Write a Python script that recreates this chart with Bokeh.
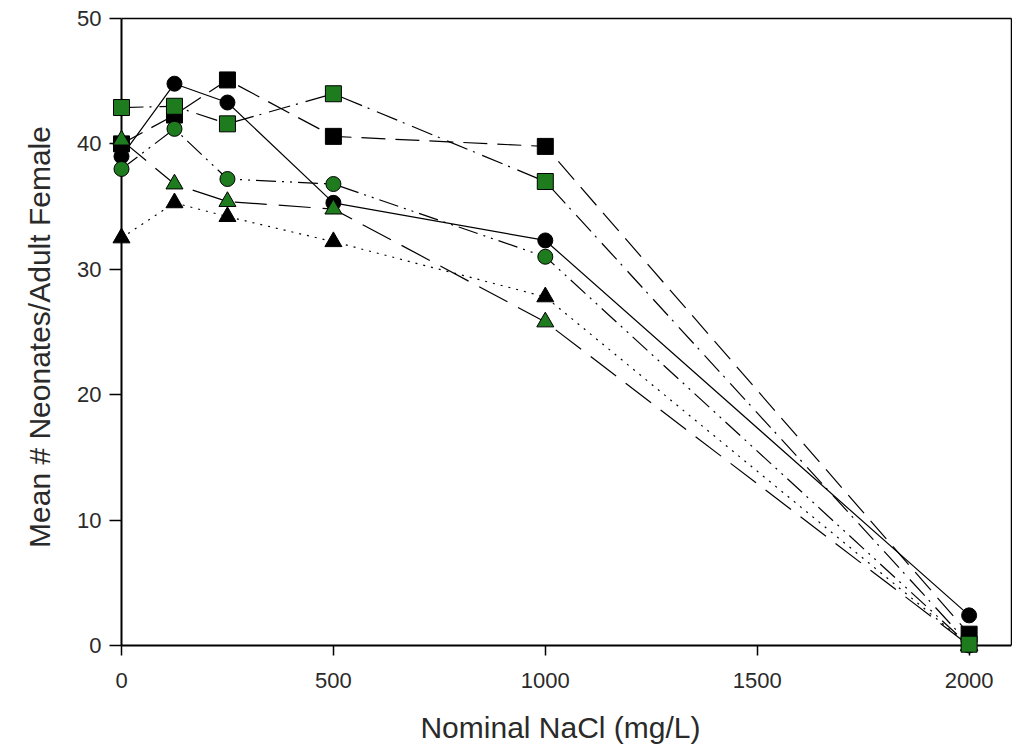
from bokeh.plotting import figure
from bokeh.models import Range1d, FixedTicker, LinearAxis
from bokeh.embed import file_html
from bokeh.resources import INLINE

# ---- data ----
nacl = [0, 125, 250, 500, 1000, 2000]
black_circle = [39.0, 44.8, 43.3, 35.3, 32.3, 2.4]
black_square = [40.0, 42.3, 45.1, 40.6, 39.8, 0.9]
black_triangle = [32.5, 35.3, 34.2, 32.2, 27.8, 0.0]
green_circle = [38.0, 41.2, 37.2, 36.8, 31.0, 0.0]
green_square = [42.9, 43.0, 41.6, 44.0, 37.0, 0.1]
green_triangle = [40.3, 36.8, 35.4, 34.8, 25.8, 0.0]

x_ticks = [0, 500, 1000, 1500, 2000]
y_ticks = [0, 10, 20, 30, 40, 50]
x_title = "Nominal NaCl (mg/L)"
y_title = "Mean # Neonates/Adult Female"
x_min, x_max = 0, 2100
y_min, y_max = 0, 50

GREEN = "#1e7b1e"
FONT = "Liberation Sans"

# a little padding beyond the axes so that markers on the axes are not clipped
x_pad = 28.3
y_pad = 0.8

p = figure(width=1012, height=749, output_backend="svg", toolbar_location=None,
           x_range=Range1d(x_min - x_pad, x_max), y_range=Range1d(y_min - y_pad, y_max),
           min_border_left=109, min_border_right=1, min_border_top=18,
           min_border_bottom=94)
p.grid.visible = False
p.outline_line_color = None
p.background_fill_color = "white"
p.border_fill_color = "white"

# label-carrying axes at the frame edges (their lines hidden)
for ax in (p.xaxis[0], p.yaxis[0]):
    ax.axis_line_color = None
    ax.major_tick_line_color = "black"
    ax.major_tick_line_width = 1.5
    ax.major_tick_out = 0
    ax.minor_tick_line_color = None
    ax.major_label_text_font = FONT
    ax.major_label_text_font_size = "22px"
    ax.major_label_text_color = "#2a2a2a"
    ax.axis_label_text_font = FONT
    ax.axis_label_text_font_size = "30px"
    ax.axis_label_text_font_style = "normal"
    ax.axis_label_text_color = "#2a2a2a"

p.xaxis.major_tick_in = 10
p.yaxis.major_tick_in = 12
p.xaxis.ticker = FixedTicker(ticks=x_ticks)
p.yaxis.ticker = FixedTicker(ticks=y_ticks)
p.xaxis.axis_label = x_title
p.yaxis.axis_label = y_title
p.xaxis.major_label_standoff = 17
p.yaxis.major_label_standoff = 8
p.xaxis.axis_label_standoff = 20
p.yaxis.axis_label_standoff = 18


def line_axis(bounds, width, loc=None):
    a = LinearAxis(ticker=FixedTicker(ticks=[]), bounds=bounds,
                   axis_line_width=width, axis_line_color="black",
                   major_tick_line_color=None, minor_tick_line_color=None,
                   major_label_text_font_size="0px")
    if loc is not None:
        a.fixed_location = loc
    return a


# axis lines through the origin, plus top and right frame lines
p.add_layout(line_axis((x_min, x_max), 2, y_min), "above")
p.add_layout(line_axis((x_min, x_max), 1.5), "above")
p.add_layout(line_axis((y_min, y_max), 2, x_min), "right")
p.add_layout(line_axis((y_min, y_max), 1.5), "right")

# ---- lines ----
series = [
    (black_triangle, "black", "triangle", "2 6"),
    (black_circle, "black", "circle", "solid"),
    (black_square, "black", "square", "24 10"),
    (green_triangle, GREEN, "triangle", "32 12"),
    (green_circle, GREEN, "circle", "20 6 2 6 2 6"),
    (green_square, GREEN, "square", "22 6 2 8"),
]
for ys, col, mk, dash in series:
    p.line(nacl, ys, line_color="black", line_width=1.2, line_dash=dash)

# ---- markers ----
sizes = {"triangle": 17, "circle": 15, "square": 16}
for ys, col, mk, dash in series:
    r = p.scatter(nacl, ys, marker=mk, size=sizes[mk], fill_color=col,
                  line_color="black", line_width=1)
    r.level = "overlay"

open("out.html", "w").write(file_html(p, INLINE))
